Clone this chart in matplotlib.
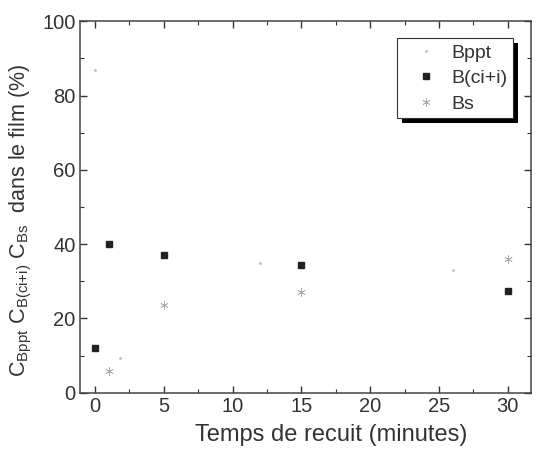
import matplotlib
matplotlib.use("Agg")
import matplotlib.pyplot as plt
from matplotlib.ticker import MultipleLocator
from matplotlib.patches import Rectangle

# Data
bppt_x = [0, 1.8, 12, 26]
bppt_y = [87, 9.5, 35, 33]
bcii_x = [0, 1, 5, 15, 30]
bcii_y = [12, 40, 37, 34.5, 27.5]
bs_x = [1, 5, 15, 30]
bs_y = [6, 23.5, 27, 36]

xticks = [0, 5, 10, 15, 20, 25, 30]
yticks = [0, 20, 40, 60, 80, 100]

plt.rcParams['font.family'] = ['Liberation Sans', 'DejaVu Sans']
plt.rcParams['mathtext.fontset'] = 'custom'
plt.rcParams['mathtext.rm'] = 'Liberation Sans'
plt.rcParams['mathtext.it'] = 'Liberation Sans'
plt.rcParams['mathtext.bf'] = 'Liberation Sans'

fig = plt.figure(figsize=(5.36, 4.51), dpi=100)
ax = fig.add_axes([0.149, 0.129, 0.842, 0.824])

ax.plot(bppt_x, bppt_y, ls='none', marker='.', ms=2, color='#bbbbbb', label='Bppt')
ax.plot(bcii_x, bcii_y, ls='none', marker='s', ms=5, color='#222222', label='B(ci+i)')
ax.plot(bs_x, bs_y, ls='none', marker=(6, 2, 0), ms=6, mew=0.5, color='#aaaaaa', label='Bs')

ax.set_xlim(-1.1, 31.7)
ax.set_ylim(0, 100)
ax.set_xticks(xticks)
ax.set_yticks(yticks)
ax.xaxis.set_minor_locator(MultipleLocator(2.5))
ax.yaxis.set_minor_locator(MultipleLocator(10))
ax.tick_params(which='both', direction='in', top=True, right=True, colors='#333333',
               labelsize=14.5, labelcolor='#333333', pad=3)
ax.tick_params(which='major', length=5, width=1)
ax.tick_params(which='minor', length=3, width=0.8)
for s in ax.spines.values():
    s.set_color('#444444')
    s.set_linewidth(1.1)

ax.set_xlabel('Temps de recuit (minutes)', fontsize=17, color='#333333', labelpad=3)
ax.xaxis.set_label_coords(0.557, -0.085)
ax.set_ylabel(r'C$_{\text{Bppt}}$ C$_{\text{B(ci+i)}}$ C$_{\text{Bs}}$  dans le film (%)',
              fontsize=15.5, color='#333333', labelpad=4)
ax.yaxis.set_label_coords(-0.102, 0.465)

leg = ax.legend(loc='upper right', bbox_to_anchor=(0.96, 0.954), frameon=True, fancybox=False,
                shadow=False, fontsize=14, handletextpad=0.1, framealpha=1,
                borderpad=0.3, labelspacing=0.4, handlelength=2.4, borderaxespad=0)
leg.get_frame().set_edgecolor('#333333')
leg.get_frame().set_facecolor('white')
leg.get_frame().set_linewidth(0.8)
for t in leg.get_texts():
    t.set_color('#333333')

fig.canvas.draw()
bb = leg.get_window_extent()
shadow = Rectangle((bb.x0 + 5, bb.y0 - 5), bb.width, bb.height, transform=None,
                   facecolor='black', edgecolor='none', zorder=4.9, clip_on=False)
ax.add_patch(shadow)

fig.savefig('out.png', dpi=100)
